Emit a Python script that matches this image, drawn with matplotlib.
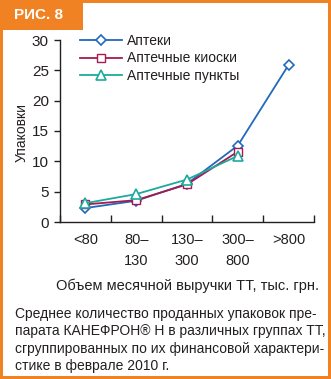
import matplotlib.pyplot as plt
from matplotlib.patches import Rectangle
from matplotlib.lines import Line2D

categories = ["<80", "80–\n130", "130–\n300", "300–\n800", ">800"]
apteki = [2.3, 3.5, 6.3, 12.6, 25.9]
kioski = [2.9, 3.6, 6.2, 11.6]
punkty = [3.1, 4.6, 7.0, 10.9]
series_names = ["Аптеки", "Аптечные киоски", "Аптечные пункты"]
caption = ("Среднее количество проданных упаковок пре-\n"
           "парата КАНЕФРОН® Н в различных группах ТТ,\n"
           "сгруппированных по их финансовой характери-\n"
           "стике в феврале 2010 г.")

orange = "#f08224"
blue = "#2169bd"
crimson = "#a51a52"
teal = "#1bab9c"
txt = "#231f20"

plt.rcParams["font.family"] = ["Liberation Sans", "DejaVu Sans"]

W, H = 331, 379
fig = plt.figure(figsize=(W / 100, H / 100), dpi=100)

# orange frame and tab
fig.patches.append(Rectangle((0, 0), 1, 1, transform=fig.transFigure,
                             facecolor=orange, edgecolor="none", zorder=-3))
fig.patches.append(Rectangle((3 / W, 3 / H), 325 / W, 373 / H, transform=fig.transFigure,
                             facecolor="white", edgecolor="none", zorder=-2))
fig.patches.append(Rectangle((0, 1 - 30 / H), 83 / W, 30 / H, transform=fig.transFigure,
                             facecolor=orange, edgecolor="none", zorder=-1))
fig.text(14 / W, 1 - 15 / H, "РИС. 8", color="white", fontsize=11, fontweight="bold",
         va="center", ha="left")

ax = fig.add_axes([60 / W, 1 - 222 / H, 254 / W, 182 / H])
x = [i + 0.5 for i in range(len(categories))]

ax.plot(x, apteki, color=blue, lw=1.3, marker="D", ms=5.5, mfc="white", mec=blue, mew=1.2)
ax.plot(x[:4], kioski, color=crimson, lw=1.3, marker="s", ms=6, mfc="white", mec=crimson, mew=1.0)
ax.plot(x[:4], punkty, color=teal, lw=1.3, marker="^", ms=7, mfc="white", mec=teal, mew=1.2)

ax.set_xlim(0, 5)
ax.set_ylim(0, 30)
ax.set_xticks(range(6))
ax.set_xticklabels([])
ax.set_xticks(x, minor=True)
ax.set_xticklabels(categories, minor=True, linespacing=1.6)
ax.tick_params(axis="x", which="major", direction="in", length=5, width=1, color=txt)
ax.tick_params(axis="x", which="minor", length=0, pad=8, labelsize=10.5, labelcolor=txt)
ax.set_yticks(range(0, 31, 5))
ax.tick_params(axis="y", direction="out", length=4, width=1, color=txt, labelsize=11,
               labelcolor=txt, pad=4)
for s in ["top", "right"]:
    ax.spines[s].set_visible(False)
for s in ["left", "bottom"]:
    ax.spines[s].set_color(txt)
    ax.spines[s].set_linewidth(1)

fig.text(22 / W, 1 - 133 / H, "Упаковки", rotation=90, ha="center", va="center",
         fontsize=10, color=txt)
fig.text(187 / W, 1 - 286 / H, "Объем месячной выручки ТТ, тыс. грн.", ha="center",
         va="center", fontsize=10.5, color=txt)

handles = [
    Line2D([], [], color=blue, lw=1.3, marker="D", ms=5.5, mfc="white", mec=blue, mew=1.2),
    Line2D([], [], color=crimson, lw=1.3, marker="s", ms=6, mfc="white", mec=crimson, mew=1.0),
    Line2D([], [], color=teal, lw=1.3, marker="^", ms=7, mfc="white", mec=teal, mew=1.2),
]
leg = fig.legend(handles, series_names, loc="upper left", bbox_to_anchor=(80 / W, 1 - 34 / H),
                 frameon=False, fontsize=10, handlelength=3.0, handletextpad=0.4,
                 labelspacing=0.25, borderaxespad=0, borderpad=0)
for t in leg.get_texts():
    t.set_color(txt)

fig.text(15 / W, 1 - 340 / H, caption, ha="left", va="center", fontsize=10,
         linespacing=1.3, color=txt)

fig.savefig("out.png", dpi=100)
